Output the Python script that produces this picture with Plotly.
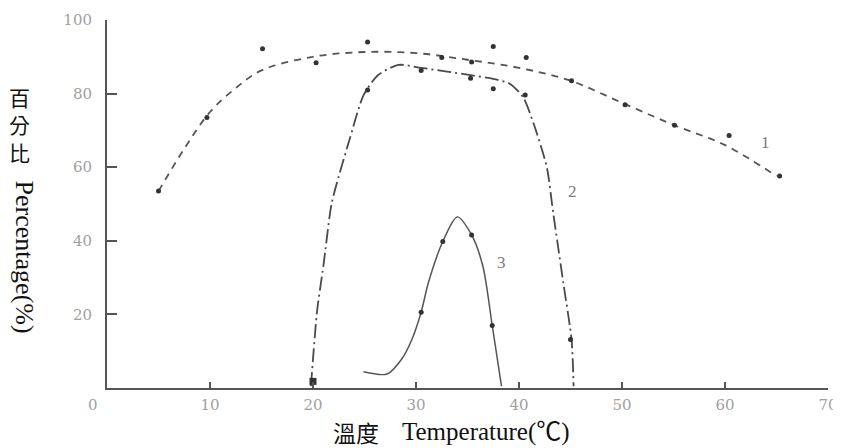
import plotly.graph_objects as go

# ---- data ----
# curve 1 (dashed): fitted line and observed points
c1_line_x = [5, 7.5, 10, 12.5, 15, 20, 25, 30, 35, 40, 45, 50, 55, 60, 65]
c1_line_y = [53.5, 65, 75, 81.5, 86.3, 90, 91.3, 91, 89.2, 87, 83.5, 77.5, 71.5, 66, 57.6]
c1_pts_x = [5, 9.7, 15.1, 20.3, 25.3, 32.5, 35.4, 37.5, 40.7, 45.1, 50.3, 55.1, 60.4, 65.3]
c1_pts_y = [53.5, 73.5, 92.2, 88.4, 94, 89.8, 88.6, 92.8, 89.8, 83.5, 77, 71.4, 68.6, 57.6]

# curve 2 (dash-dot)
c2_line_x = [19.8, 20.4, 21.0, 21.8, 22.5, 23.6, 24.9, 26.3, 28.3, 30.5, 33, 35.3, 37.5, 39.1, 40.4, 41.4, 42.7, 43.3, 44.3, 45.1, 45.3]
c2_line_y = [0.5, 21, 33, 50, 57.5, 68, 79.5, 85, 87.8, 87, 86, 85, 84, 82.7, 79, 72, 60, 48, 28.6, 13.2, 0.5]
c2_pts_x = [25.3, 30.5, 35.3, 37.5, 40.6, 45.0]
c2_pts_y = [81.0, 86.3, 84.2, 81.3, 79.6, 13.2]
c2_base_x = [20.0]
c2_base_y = [1.8]

# curve 3 (solid)
c3_line_x = [24.9, 27.2, 28.6, 29.6, 30.5, 31.2, 32.6, 34.0, 35.4, 36.5, 37.4, 38.3]
c3_line_y = [4.4, 3.8, 7.8, 13.2, 20.6, 28.6, 39.8, 46.5, 41.6, 33, 17, 0.5]
c3_pts_x = [30.5, 32.6, 35.4, 37.4]
c3_pts_y = [20.6, 39.8, 41.6, 17.0]

x_ticks = [10, 20, 30, 40, 50, 60, 70]
y_ticks = [20, 40, 60, 80, 100]

curve_labels = ["1", "2", "3"]
curve_label_x = [63.9, 45.2, 38.3]
curve_label_y = [66.8, 53.3, 34.2]

LINE = "#4a4a4a"
MARK = "#333333"
TICKFONT = dict(family="DejaVu Serif, serif", size=15, color="#a0a0a0")

fig = go.Figure()

fig.add_trace(go.Scatter(x=c1_line_x, y=c1_line_y, mode="lines",
                         line=dict(color="#555555", width=1.8, dash="7px,6px", shape="spline", smoothing=1.0),
                         hoverinfo="skip", showlegend=False))
fig.add_trace(go.Scatter(x=c2_line_x, y=c2_line_y, mode="lines",
                         line=dict(color=LINE, width=1.8, dash="14px,4px,2px,4px", shape="spline", smoothing=0.7),
                         hoverinfo="skip", showlegend=False))
fig.add_trace(go.Scatter(x=c3_line_x, y=c3_line_y, mode="lines",
                         line=dict(color="#555555", width=1.5, shape="spline", smoothing=0.8),
                         hoverinfo="skip", showlegend=False))

fig.add_trace(go.Scatter(x=c1_pts_x, y=c1_pts_y, mode="markers",
                         marker=dict(color=MARK, size=5), showlegend=False))
fig.add_trace(go.Scatter(x=c2_pts_x, y=c2_pts_y, mode="markers",
                         marker=dict(color=MARK, size=5), showlegend=False))
fig.add_trace(go.Scatter(x=c2_base_x, y=c2_base_y, mode="markers",
                         marker=dict(color=MARK, size=7, symbol="square"), showlegend=False))
fig.add_trace(go.Scatter(x=c3_pts_x, y=c3_pts_y, mode="markers",
                         marker=dict(color=MARK, size=5), showlegend=False))

annotations = []
for t, ax_, ay_ in zip(curve_labels, curve_label_x, curve_label_y):
    annotations.append(dict(x=ax_, y=ay_, xref="x", yref="y", text=t, showarrow=False,
                            font=dict(family="Liberation Serif, serif", size=17, color="#7a7a7a")))

# origin "0" label
annotations.append(dict(x=-0.0194, y=-0.046, xref="paper", yref="paper", text="0", showarrow=False,
                        xanchor="center", yanchor="middle", font=TICKFONT))

# y axis title: upright CJK + rotated latin
annotations.append(dict(x=-0.1207, y=0.717, xref="paper", yref="paper", text="百<br>分<br>比",
                        showarrow=False, xanchor="center", yanchor="middle",
                        font=dict(family="Noto Sans CJK TC", size=21, color="#111")))
annotations.append(dict(x=-0.1151, y=0.357, xref="paper", yref="paper", text="Percentage(%)",
                        showarrow=False, textangle=90, xanchor="center", yanchor="middle",
                        font=dict(family="Liberation Serif, serif", size=26, color="#111")))

# x axis title
annotations.append(dict(x=0.345, y=-0.119, xref="paper", yref="paper", text="溫度", showarrow=False,
                        xanchor="center", yanchor="middle",
                        font=dict(family="Noto Sans CJK TC", size=23, color="#111")))
annotations.append(dict(x=0.526, y=-0.119, xref="paper", yref="paper", text="Temperature(℃)",
                        showarrow=False, xanchor="center", yanchor="middle",
                        font=dict(family="Liberation Serif, Noto Sans CJK TC, serif", size=25, color="#111")))

# the page body adds an 8px offset, so the figure is sized to fit the window
fig.update_layout(
    width=833, height=440,
    margin=dict(l=99, r=13, t=12, b=60),
    paper_bgcolor="white", plot_bgcolor="white",
    annotations=annotations,
    showlegend=False,
)
fig.update_xaxes(range=[0, 70], tickvals=x_ticks, ticktext=[str(v) for v in x_ticks],
                 showgrid=False, zeroline=False, showline=True, linecolor="#555", linewidth=2,
                 ticks="inside", ticklen=6, tickwidth=2, tickcolor="#555",
                 tickfont=TICKFONT, ticklabelstandoff=2, automargin=False,
                 ticklabeloverflow="allow")
fig.update_yaxes(range=[0, 100], tickvals=y_ticks, ticktext=[str(v) for v in y_ticks],
                 showgrid=False, zeroline=False, showline=True, linecolor="#555", linewidth=2,
                 ticks="inside", ticklen=10, tickwidth=2, tickcolor="#555",
                 tickfont=TICKFONT, ticklabelstandoff=10, automargin=False,
                 ticklabeloverflow="allow")

fig.write_html("out.html")
